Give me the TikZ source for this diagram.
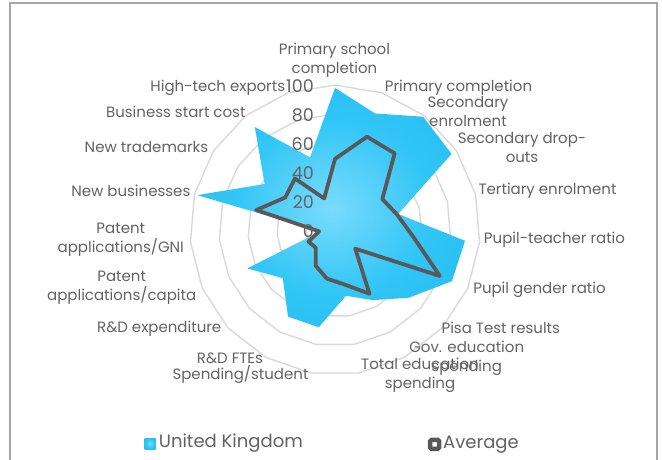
\documentclass[tikz,border=0pt]{standalone}
\usepackage{fontspec}
\setmainfont{Poppins}
\usetikzlibrary{positioning}

\definecolor{textgray}{RGB}{98,98,98}
\definecolor{ringgray}{RGB}{217,217,217}
\definecolor{framegray}{RGB}{166,166,166}
\definecolor{avggray}{RGB}{89,89,89}
\definecolor{uklight}{RGB}{122,219,252}
\definecolor{ukmid}{RGB}{50,198,246}
\definecolor{ukdark}{RGB}{22,174,232}
\pgfdeclareradialshading{ukshade}{\pgfpoint{0bp}{0bp}}{color(0bp)=(uklight); color(18bp)=(ukmid); color(50bp)=(ukdark)}

\begin{document}
\begin{tikzpicture}[
         x=1pt, y=-1pt,
         ring/.style={draw=ringgray, line width=1.4pt},
         ukarea/.style={shade, shading=ukshade},
         avgline/.style={draw=avggray, line width=3.8pt, line join=round},
         catlabel/.style={font=\fontsize{15}{19}\selectfont, text=textgray, align=center, inner sep=0pt},
         ticklabel/.style={font=\fontsize{17.5}{17.5}\selectfont, text=textgray, anchor=east, inner sep=0pt},
         legend/.style={font=\fontsize{18}{18}\selectfont, text=textgray, inner sep=0pt}
      ]
         \useasboundingbox (0,0) rectangle (662,459);

         % Frame, open at the bottom
         \draw[framegray, line width=2pt] (10,470) -- (10,3) -- (657,3) -- (657,470);

         \begin{scope}[shift={(335,230)}]
            % Grid rings
            \foreach \r in {1,...,5}
               \draw[ring] ({-90}:{\r*29}) foreach \k in {1,...,18} {-- ({-90+\k*360/19}:{\r*29})} -- cycle;

            % Data points
            \foreach \v [count=\k from 0] in {98,85,99,96,45,90,88,69,55,46,68,68,49,66,10,98,58,90,53}
               \coordinate (u\k) at ({-90+\k*360/19}:{\v*1.45});
            \foreach \v [count=\k from 0] in {49,68,67,39,44,54,79,19,50,38,34,28,18,20,11,56,41,45,23}
               \coordinate (a\k) at ({-90+\k*360/19}:{\v*1.45});

            % Series
            \path[ukarea] (u0) foreach \k in {1,...,18} {-- (u\k)} -- cycle;
            \draw[avgline] (a0) foreach \k in {1,...,18} {-- (a\k)} -- cycle;
         \end{scope}

         % Axis values
         \foreach \v [count=\i from 0] in {0,20,40,60,80,100}
            \node[ticklabel] (tick\i) at (314,{231-\v*1.45}) {\v};

         % Category labels
         \node[catlabel] (cat0) at (334.5,60) {Primary school\\completion};
         \node[catlabel] (cat1) at (458.5,88) {Primary completion};
         \node[catlabel] (cat2) at (468,112) {Secondary\\enrolment};
         \node[catlabel] (cat3) at (522,148) {Secondary drop-\\outs};
         \node[catlabel] (cat4) at (547.5,190.7) {Tertiary enrolment};
         \node[catlabel] (cat5) at (554.5,240) {Pupil-teacher ratio};
         \node[catlabel] (cat6) at (539.5,290) {Pupil gender ratio};
         \node[catlabel] (cat7) at (500.8,328.3) {Pisa Test results};
         \node[catlabel] (cat8) at (466.7,358.8) {Gov. education\\spending};
         \node[catlabel] (cat9) at (420,375) {Total education\\spending};
         \node[catlabel] (cat10) at (240.5,374.3) {Spending/student};
         \node[catlabel] (cat11) at (230,358.3) {R\&D FTEs};
         \node[catlabel] (cat12) at (159.2,328.3) {R\&D expenditure};
         \node[catlabel] (cat13) at (121.7,287.5) {Patent\\applications/capita};
         \node[catlabel] (cat14) at (120.8,240) {Patent\\applications/GNI};
         \node[catlabel] (cat15) at (130.8,191) {New businesses};
         \node[catlabel] (cat16) at (146.5,147.3) {New trademarks};
         \node[catlabel] (cat17) at (175.8,111.7) {Business start cost};
         \node[catlabel] (cat18) at (217.8,88.3) {High-tech exports};

         % Legend
         \node[shade, shading=ukshade, minimum size=11pt, inner sep=0pt] (ukkey) at (150,443.5) {};
         \node[legend, right=3pt of ukkey] (uklabel) {United Kingdom};
         \node[draw=avggray, fill=white, line width=4.5pt, rounded corners=1.5pt, minimum size=9pt, inner sep=0pt] (avgkey) at (434.7,444.3) {};
         \node[legend, right=1.5pt of avgkey] (avglabel) {Average};
      \end{tikzpicture}
\end{document}
